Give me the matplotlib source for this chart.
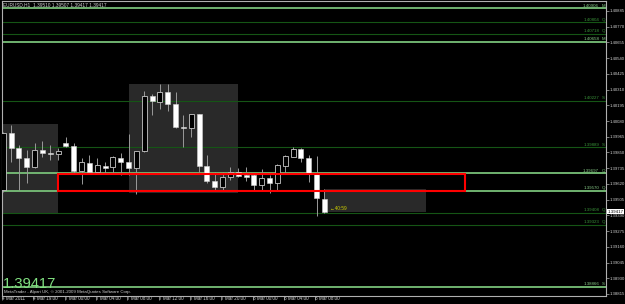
import matplotlib
matplotlib.use("Agg")
import matplotlib.pyplot as plt
import matplotlib.transforms as mtransforms
from matplotlib.patches import Rectangle

# ── EURUSD H1 candles (bar index 0 = 4 Mar 15:00) ─────────────────────────
opens  = [1.39576, 1.39995, 1.39881, 1.39808, 1.39742, 1.39870, 1.39848, 1.39837,
          1.39922, 1.39897, 1.39717, 1.39775, 1.39709, 1.39753, 1.39742, 1.39812,
          1.39783, 1.39734, 1.39859, 1.40261, 1.40219, 1.40290, 1.40203, 1.40039,
          1.40027, 1.40129, 1.39751, 1.39641, 1.39595, 1.39673, 1.39709, 1.39685,
          1.39685, 1.39612, 1.39663, 1.39625, 1.39753, 1.39819, 1.39876, 1.39808,
          1.39690, 1.39508]
highs  = [1.40000, 1.40051, 1.39905, 1.39868, 1.39922, 1.39934, 1.39905, 1.39885,
          1.39966, 1.39917, 1.39808, 1.39832, 1.39808, 1.39778, 1.39824, 1.39844,
          1.39987, 1.39859, 1.40300, 1.40278, 1.40349, 1.40351, 1.40290, 1.40124,
          1.40135, 1.40135, 1.39832, 1.39705, 1.39709, 1.39746, 1.39734, 1.39746,
          1.39690, 1.39727, 1.39685, 1.39762, 1.39830, 1.39890, 1.39880, 1.39832,
          1.39826, 1.39581]
lows   = [1.39560, 1.39783, 1.39576, 1.39629, 1.39735, 1.39815, 1.39795, 1.39795,
          1.39888, 1.39698, 1.39620, 1.39705, 1.39698, 1.39698, 1.39693, 1.39685,
          1.39685, 1.39546, 1.39855, 1.40124, 1.40166, 1.40154, 1.40030, 1.39892,
          1.39966, 1.39709, 1.39625, 1.39576, 1.39576, 1.39649, 1.39673, 1.39641,
          1.39576, 1.39576, 1.39551, 1.39576, 1.39693, 1.39815, 1.39780, 1.39636,
          1.39385, 1.39410]
closes = [1.39993, 1.39885, 1.39812, 1.39742, 1.39868, 1.39844, 1.39837, 1.39861,
          1.39897, 1.39715, 1.39778, 1.39709, 1.39756, 1.39734, 1.39815, 1.39780,
          1.39734, 1.39859, 1.40261, 1.40224, 1.40290, 1.40203, 1.40034, 1.40027,
          1.40129, 1.39751, 1.39641, 1.39595, 1.39673, 1.39709, 1.39680, 1.39673,
          1.39612, 1.39661, 1.39625, 1.39758, 1.39826, 1.39876, 1.39808, 1.39698,
          1.39515, 1.39417]

# time axis labels (bar index, text)
time_idx    = [0, 4, 8, 12, 16, 20, 24, 28, 32, 36, 40]
time_labels = ["4 Mar 2011", "4 Mar 19:00", "7 Mar 00:00", "7 Mar 04:00",
               "7 Mar 08:00", "7 Mar 12:00", "7 Mar 16:00", "7 Mar 20:00",
               "8 Mar 00:00", "8 Mar 04:00", "8 Mar 08:00"]

# price scale
price_ticks = [1.40885, 1.40770, 1.40655, 1.40540, 1.40425, 1.40310, 1.40195,
               1.40080, 1.39965, 1.39850, 1.39735, 1.39620, 1.39505, 1.39390,
               1.39275, 1.39160, 1.39045, 1.38930, 1.38815]

# horizontal levels (pivot lines) : price, tag, style
level_prices = [1.40906, 1.40804, 1.40718, 1.40658, 1.40227, 1.39889,
                1.39697, 1.39570, 1.39408, 1.39323, 1.38866]
level_tags   = ["M", "Q", "Q", "M", "S", "S", "Q", "Q", "Q", "Q", "S"]
level_bright = [True, False, False, True, False, False, True, True, False, False, True]

# gray zones: x0, x1 (bar index), low, high
zone_x0   = [-1, 16, 41]
zone_x1   = [7, 30, 54]
zone_low  = [1.39407, 1.39551, 1.39417]
zone_high = [1.40056, 1.40349, 1.39581]

# red box
box_x0, box_x1 = 7, 59
box_low, box_high = 1.39568, 1.39695

last_price = 1.39417

# ══════════════════════════════════════════════════════════════════════════
fig = plt.figure(figsize=(6.25, 3.04), dpi=100, facecolor="black")
ax = fig.add_axes([2/625, 8/304, 604/625, 295/304], facecolor="black")
FONT = "Liberation Sans"
GRAY = "#b0b0b0"

ax.set_xlim(0, 76.94)
ax.set_ylim(1.38800, 1.40958)

# zones behind everything
for x0, x1, lo, hi in zip(zone_x0, zone_x1, zone_low, zone_high):
    ax.add_patch(Rectangle((x0, lo), x1 - x0, hi - lo, facecolor="#292929",
                           edgecolor="none", zorder=0))

# levels
trans = mtransforms.blended_transform_factory(ax.transAxes, ax.transData)
for p, tag, bright in zip(level_prices, level_tags, level_bright):
    col = "#78c078" if bright else "#155515"
    tcol = "#88cc88" if bright else "#3a923a"
    ax.axhline(p, color=col, lw=1.3 if bright else 0.8, zorder=1)
    ax.text(0.9885, p + 0.00004, f"{p:.5f}", transform=trans, ha="right", va="bottom",
            fontsize=3.2, color=tcol, family=FONT)
    ax.text(0.9935, p + 0.00004, tag, transform=trans, ha="left", va="bottom",
            fontsize=3.2, color=tcol, family=FONT)

# red box
ax.add_patch(Rectangle((box_x0, box_low), box_x1 - box_x0, box_high - box_low,
                       facecolor="none", edgecolor="#ff0000", lw=1.5, zorder=4))

# candles
for i, (o, h, l, c) in enumerate(zip(opens, highs, lows, closes)):
    ax.vlines(i, l, h, color="#9a9a9a", lw=0.7, zorder=2)
    bottom = min(o, c)
    height = max(abs(c - o), 0.00002)
    if c < o:
        ax.bar(i, height, bottom=bottom, width=0.64, color="white",
               edgecolor="#d0d0d0", lw=0.4, zorder=3)
    else:
        ax.bar(i, height, bottom=bottom, width=0.64, color="black",
               edgecolor="#c8c8c8", lw=0.6, zorder=3)

# axes cosmetics
for s in ax.spines.values():
    s.set_color(GRAY)
    s.set_linewidth(0.8)
ax.yaxis.tick_right()
ax.set_yticks(price_ticks)
ax.set_yticklabels([f"{v:.5f}" for v in price_ticks], fontsize=3.1, color="#d0d0d0",
                   family=FONT)
ax.tick_params(axis="y", length=2, width=0.5, color=GRAY, pad=0.8)
ax.set_xticks([t - 0.15 for t in time_idx])
ax.set_xticklabels(time_labels, fontsize=3.3, color="#d0d0d0", family=FONT, ha="left")
ax.tick_params(axis="x", length=3, width=0.5, color=GRAY, pad=-3.2)

# current price marker on scale
ax.text(1.002, last_price, f"{last_price:.5f}", transform=trans, ha="left", va="center",
        fontsize=3.2, color="black", family=FONT, zorder=10, clip_on=False,
        bbox=dict(boxstyle="square,pad=0.15", facecolor="white", edgecolor="none"))

# header / footer text
ax.text(0.002, 0.997, "EURUSD,H1  1.39510 1.39507 1.39417 1.39417", transform=ax.transAxes,
        ha="left", va="top", fontsize=3.4, color="#d0d0d0", family=FONT)
ax.text(0.003, 0.006, "MetaTrader - Alpari UK, \u00a9 2001-2009 MetaQuotes Software Corp.",
        transform=ax.transAxes, ha="left", va="bottom", fontsize=3.2, color="#d0d0d0",
        family=FONT)
ax.text(0.002, 0.026, f"{last_price:.5f}", transform=ax.transAxes, ha="left",
        va="baseline", fontsize=10.6, color="#80e080", family=FONT)
ax.text(41.7, last_price + 0.00002, "\u219040:59", ha="left", va="bottom",
        fontsize=3.4, color="#d0d000", family=["Liberation Sans", "DejaVu Sans"], zorder=5)

fig.savefig("out.png", dpi=100, facecolor="black")
